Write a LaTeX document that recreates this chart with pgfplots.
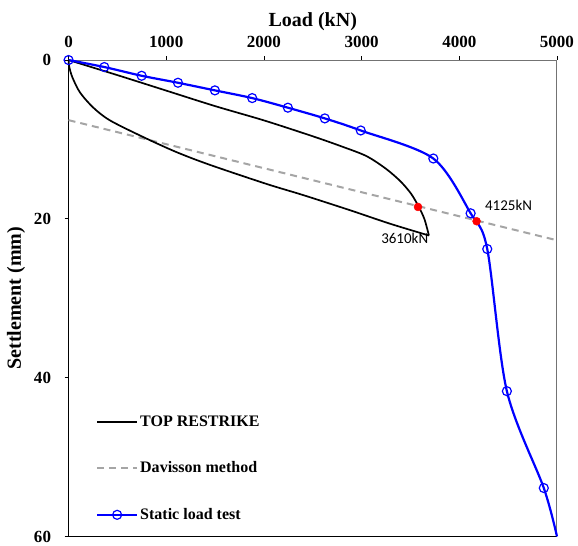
\documentclass[border=0pt]{standalone}
\usepackage{fontspec}
\setmainfont{Liberation Serif}
\newfontfamily\calfont{Carlito}
\usepackage{pgfplots}
\pgfplotsset{compat=1.18}
\definecolor{dgray}{RGB}{165,165,165}
\begin{document}
\begin{tikzpicture}
\begin{axis}[
  scale only axis, width=488pt, height=476pt,
  xmin=0, xmax=5000, ymin=0, ymax=60, y dir=reverse,
  axis line style={color=black!55, line width=1pt},
  xtick pos=right, xticklabel pos=right, ytick pos=left, yticklabel pos=left,
  xtick={0,1000,...,5000}, ytick={0,20,40,60},
  tick align=outside, major tick length=4pt,
  tick style={black, line width=0.8pt},
  xticklabel={\textbf{\pgfmathprintnumber[assume math mode=true,1000 sep={}]{\tick}}},
  yticklabel={\textbf{\pgfmathprintnumber[assume math mode=true,1000 sep={}]{\tick}}},
  tick label style={font=\fontsize{17}{17}\selectfont},
  xticklabel style={yshift=5pt},
  yticklabel style={xshift=-10pt},
  xlabel={Load (kN)}, ylabel={Settlement (mm)},
  label style={font=\bfseries\fontsize{20}{20}\selectfont},
  xlabel style={yshift=-2pt},
  ylabel style={yshift=2pt},
  legend style={at={(0.056,0.258)}, anchor=north west, draw=none, fill=none,
    font=\bfseries\fontsize{16}{16}\selectfont, row sep=30pt, inner sep=0pt},
  legend cell align=left,
  legend image code/.code={\draw[mark indices={2}] plot coordinates {(0cm,0cm) (0.7cm,0cm) (1.4cm,0cm)};},
  clip=false,
]
\draw[black, line width=0.9pt] (rel axis cs:0,1) -- (rel axis cs:0,0) -- (rel axis cs:1,0);
\addplot[black, line width=1.7pt, smooth, tension=0.5] coordinates {
(0,0) (500,1.9) (1000,3.85) (1500,5.8) (2000,7.6) (2500,9.6) (2800,10.9) (3050,12.1) (3250,13.7) (3400,15.3) (3510,16.9) (3590,18.6) (3645,20.1) (3689,22.1)
};
\addlegendentry{TOP RESTRIKE}
\addplot[dgray, line width=2pt, dash pattern=on 7pt off 5pt] coordinates {(0,7.57) (5000,22.7)};
\addlegendentry{Davisson method}
\addplot[blue, line width=2.2pt, smooth, mark=o, mark size=4.5pt,
  mark options={fill=white, line width=1.2pt, solid}, mark indices={1,...,14}] coordinates {
(0,0) (366,0.88) (748,1.98) (1120,2.86) (1498,3.82) (1880,4.79) (2245,6.0) (2623,7.35) (2991,8.87) (3734,12.4) (4116,19.3) (4286,23.8) (4487,41.7) (4865,53.9) (5000,60)
};
\addlegendentry{Static load test}
\addplot[black, line width=1.7pt, smooth, tension=0.5, forget plot] coordinates {
(3689,22.1) (3288,20.6) (2878,18.9) (2400,17.0) (2026,15.6) (1447,13.2) (1106,11.6) (765,9.7) (424,7.6) (254,6.0) (118,4.1) (40,2.2) (8,0.9) (0,0)
};
\addplot[only marks, mark=*, red, mark size=4pt, forget plot] coordinates {(3577,18.5) (4177,20.3)};
\node[anchor=west, font=\calfont\fontsize{15}{15}\selectfont] at (axis cs:4228,18.3) {4125kN};
\node[anchor=west, font=\calfont\fontsize{15}{15}\selectfont] at (axis cs:3165,22.4) {3610kN};
\end{axis}
\path (current axis.south west) ++(-68.5pt,-9pt) coordinate (a);
\path (current axis.north east) ++(21pt,60pt) coordinate (b);
\path (a) rectangle (b);
\end{tikzpicture}
\end{document}
